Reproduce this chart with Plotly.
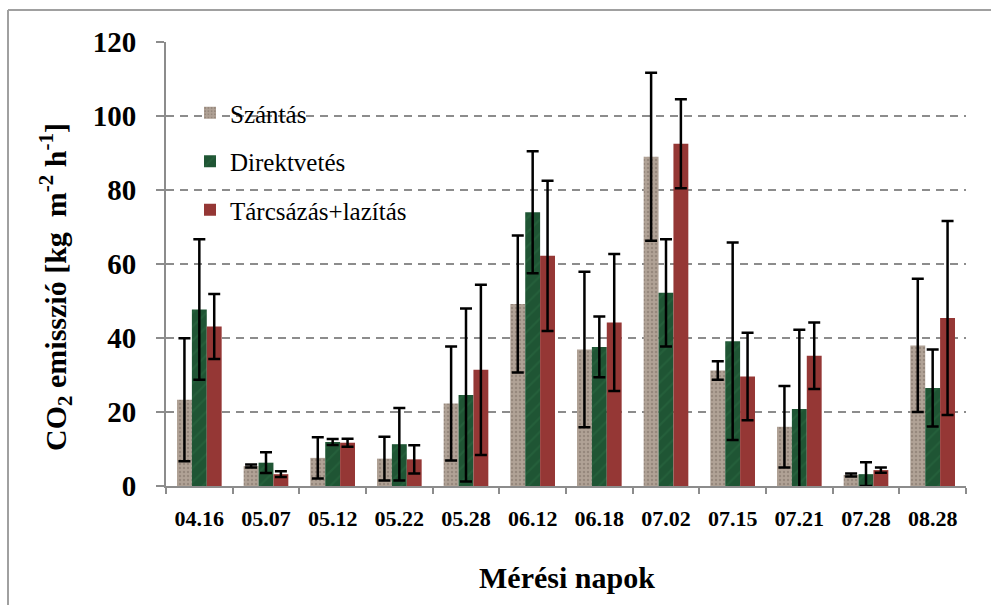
import plotly.graph_objects as go

dates = ["04.16", "05.07", "05.12", "05.22", "05.28", "06.12",
         "06.18", "07.02", "07.15", "07.21", "07.28", "08.28"]
szantas = [23.3, 5.4, 7.6, 7.4, 22.3, 49.2, 36.9, 89.0, 31.2, 16.0, 3.0, 38.0]
szantas_err = [16.6, 0.4, 5.6, 5.9, 15.4, 18.5, 21.0, 22.7, 2.5, 11.0, 0.4, 18.0]
direkt = [47.7, 6.3, 11.9, 11.3, 24.6, 74.0, 37.6, 52.2, 39.1, 20.8, 3.2, 26.5]
direkt_err = [19.0, 2.8, 0.8, 9.8, 23.4, 16.5, 8.2, 14.5, 26.7, 21.4, 3.2, 10.4]
tarcs = [43.1, 3.2, 11.7, 7.2, 31.4, 62.2, 44.2, 92.5, 29.6, 35.2, 4.3, 45.4]
tarcs_err = [8.8, 0.8, 1.1, 3.8, 23.0, 20.3, 18.5, 12.0, 11.8, 9.0, 0.7, 26.2]
y_ticks = [0, 20, 40, 60, 80, 100, 120]

SERIF = "Liberation Serif"

# pixel geometry helpers (plot area 166..966 x, 42..486 y)
L, R, T, B = 166, 966, 42, 486
W, H = 991, 605
def px(x):
    return (x - L) / (R - L)
def py(y):
    return (B - y) / (B - T)

series = [
    ("Szántás", szantas, szantas_err,
     dict(color="#aa9c90", pattern=dict(shape=".", bgcolor="#b0a296", fgcolor="#7b6d63",
                                        size=4, solidity=0.3))),
    ("Direktvetés", direkt, direkt_err,
     dict(color="#215a37", pattern=dict(shape="/", bgcolor="#1f5534", fgcolor="#2b6a42",
                                        size=10, solidity=0.2))),
    ("Tárcsázás+lazítás", tarcs, tarcs_err, dict(color="#953735")),
]

fig = go.Figure()
for i, (name, vals, errs, mk) in enumerate(series):
    fig.add_trace(go.Bar(
        name=name, x=dates, y=vals,
        marker=dict(line=dict(width=0), **mk),
        error_y=dict(type="data", array=errs, visible=True,
                     color="black", thickness=2.5, width=6),
        legendgroup=f"g{i}",
    ))

fig.update_layout(
    width=W, height=H,
    margin=dict(l=L, r=W - R, t=T, b=H - B),
    paper_bgcolor="white", plot_bgcolor="white",
    barmode="group", bargap=0.33, bargroupgap=0,
    font=dict(family=SERIF, color="black"),
    showlegend=True,
    legend=dict(x=px(190), y=py(90), xanchor="left", yanchor="top",
                bgcolor="rgba(0,0,0,0)",
                font=dict(family=SERIF, size=25, color="black"),
                traceorder="grouped", tracegroupgap=13, itemwidth=30),
    xaxis=dict(
        type="category", showline=True, linecolor="#8c8c8c", linewidth=2,
        ticks="outside", tickson="boundaries", ticklen=6, tickcolor="#8c8c8c",
        tickwidth=1.5, showgrid=False,
        tickfont=dict(family=SERIF, size=22, color="black", weight="bold"),
        ticklabelstandoff=12,
    ),
    yaxis=dict(
        range=[0, 120], tickvals=y_ticks, showline=True, linecolor="#8c8c8c",
        linewidth=2, ticks="outside", ticklen=8, tickcolor="#8c8c8c", tickwidth=1.5,
        showgrid=True, gridcolor="#8c8c8c", gridwidth=2, griddash="8px,6px",
        zeroline=False,
        tickfont=dict(family=SERIF, size=29, color="black", weight="bold"),
        ticklabelstandoff=14,
    ),
    annotations=[
        dict(text="<b>Mérési napok</b>", xref="paper", yref="paper", x=px(567), y=py(577),
             xanchor="center", yanchor="middle", showarrow=False,
             font=dict(family=SERIF, size=30, color="black")),
        dict(text="<b>CO<sub>2</sub> emisszió [kg  m<sup>-2</sup> h<sup>-1</sup>]</b>",
             xref="paper", yref="paper", x=px(55), y=py(287),
             xanchor="center", yanchor="middle", textangle=-90, showarrow=False,
             font=dict(family=SERIF, size=30, color="black")),
    ],
    shapes=[
        dict(type="line", xref="paper", yref="paper", x0=px(8), x1=px(1100),
             y0=py(10), y1=py(10), line=dict(color="#a0a0a0", width=2)),
        dict(type="line", xref="paper", yref="paper", x0=px(8), x1=px(8),
             y0=py(10), y1=py(700), line=dict(color="#a0a0a0", width=2)),
    ],
)

fig.write_html("out.html")
